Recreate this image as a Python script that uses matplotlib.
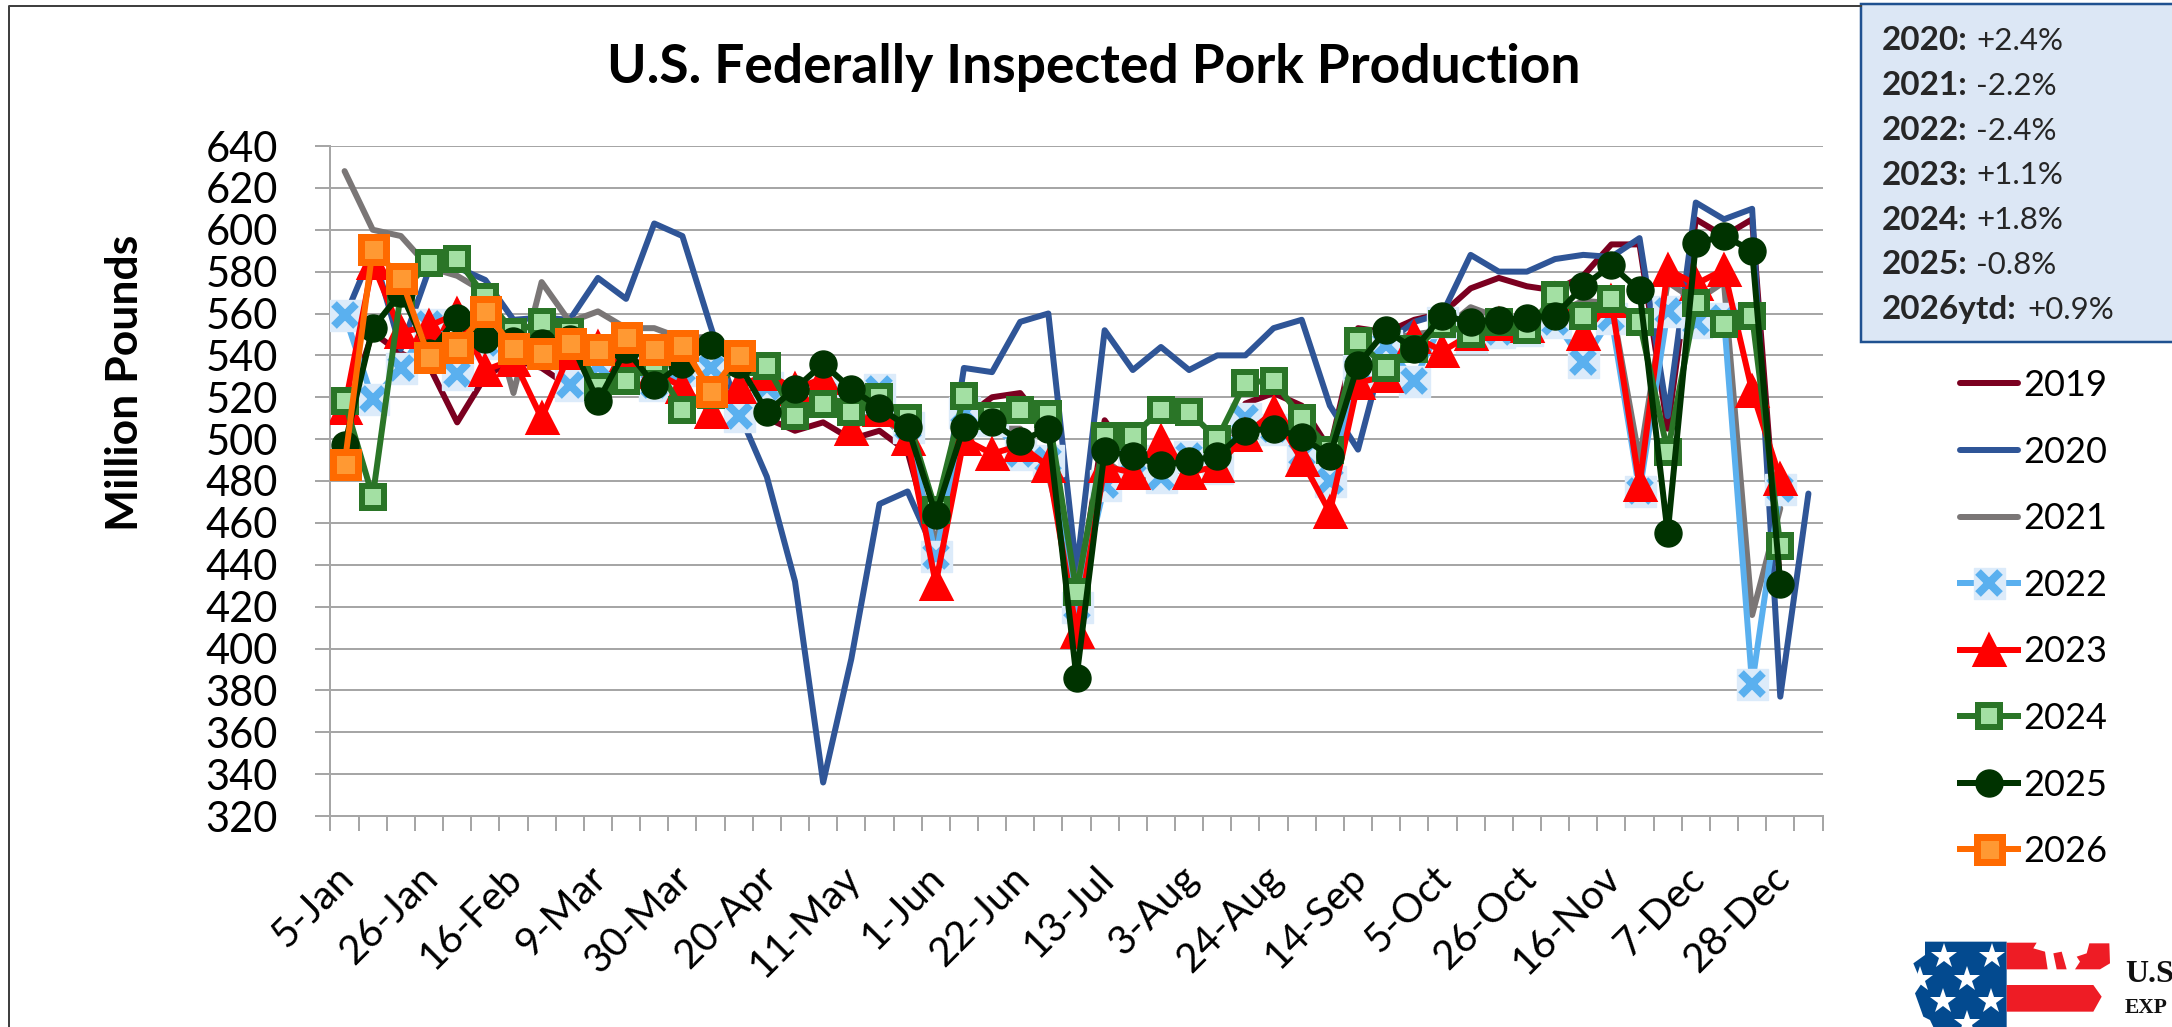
import matplotlib
matplotlib.use("Agg")
import matplotlib.pyplot as plt
from matplotlib.legend_handler import HandlerTuple
from matplotlib.patches import Polygon, Rectangle
from matplotlib.lines import Line2D
from matplotlib.transforms import ScaledTranslation

plt.rcParams['font.family'] = ['Lato', 'DejaVu Sans']

TITLE = "U.S. Federally Inspected Pork Production"
YLABEL = "Million Pounds"
TICK_LABELS = ["5-Jan", "26-Jan", "16-Feb", "9-Mar", "30-Mar", "20-Apr", "11-May", "1-Jun", "22-Jun",
               "13-Jul", "3-Aug", "24-Aug", "14-Sep", "5-Oct", "26-Oct", "16-Nov", "7-Dec", "28-Dec"]
Y_TICKS = list(range(320, 641, 20))
NOTE_YEARS = ["2020:", "2021:", "2022:", "2023:", "2024:", "2025:", "2026ytd:"]
NOTE_VALUES = ["+2.4%", "-2.2%", "-2.4%", "+1.1%", "+1.8%", "-0.8%", "+0.9%"]

y2019 = [510, 551, 541, 535, 508, 530, 538, 534, 525, 530, 535, 531, 530, 525, 520, 510, 504, 508, 500, 504,
         494, 445, 510, 520, 522, 505, 420, 509, 490, 488, 487, 492, 517, 522, 516, 495, 553, 551, 557, 560,
         572, 577, 573, 571, 578, 593, 593, 505, 605, 597, 605, 430]
y2020 = [558, 590, 543, 581, 582, 576, 557, 558, 557, 577, 567, 603, 597, 554, 513, 482, 432, 336, 395, 469,
         475, 445, 534, 532, 556, 560, 437, 552, 533, 544, 533, 540, 540, 553, 557, 516, 495, 546, 556, 560,
         588, 580, 580, 586, 588, 587, 596, 511, 613, 605, 610, 377, 474]
y2021 = [628, 600, 597, 582, 578, 570, 522, 575, 556, 561, 553, 553, 548, 549, 538, 530, 522, 515, 510, 512,
         500, 450, 510, 505, 505, 483, 430, 490, 480, 482, 487, 490, 505, 510, 503, 490, 545, 548, 550, 552,
         563, 558, 557, 560, 566, 565, 490, 575, 566, 575, 416, 467]
y2022 = [559.5, 519, 534, 555, 531, 546, 548, 549, 526, 535, 532, 526, 533, 534, 511, 525, 518, 522, 520, 524,
         506, 444, 513, 509, 493, 490, 420, 478, 490, 482, 492, 486, 510, 505, 493, 480, 533, 545, 528, 556,
         549, 551, 552, 556, 537, 558, 475, 561, 556, 558, 383, 476]
y2023 = [515, 584, 551, 554, 560, 533, 538, 510, 541, 544, 540, 532, 525, 513, 525, 531, 524, 529, 505, 514,
         500, 431, 500, 493, 497, 487, 408, 487, 484, 499, 484, 487, 502, 513, 490, 465, 527, 530, 549, 542,
         550, 555, 554, 567, 550, 566, 478, 581, 574, 581, 523, 481]
y2024 = [518, 472.5, 570, 584, 586, 568, 551, 556, 551, 525, 528, 537, 514, 521, 537, 535, 511, 517, 513, 520,
         510, 466, 520.5, 511, 514, 512, 427, 501.5, 501.5, 514, 513, 500, 527, 528, 510, 495, 547, 534, 543, 555,
         550, 556, 552, 569, 559, 567, 556, 494, 565, 555, 559, 449]
y2025 = [497, 553, 570, 541, 558, 548, 547, 546, 548, 518, 543, 526, 536, 545, 536, 513, 524, 536, 524, 515,
         506, 464, 506, 508, 499, 505, 386, 494.5, 492, 487.5, 489.5, 492, 504, 505, 501, 492, 535.5, 552, 543, 559,
         556, 557, 558, 559, 573, 583, 571, 455, 593.5, 597, 590, 431]
y2026 = [488, 591, 577, 539, 544, 561, 543.5, 541, 546, 543, 549, 543, 545, 523, 540]

W, H = 2172, 1027
fig = plt.figure(figsize=(W / 100, H / 100), dpi=100, facecolor='white')
PT = 0.72  # points per pixel at dpi 100

L, R, T, B = 330.5, 1822.5, 146, 816
ax = fig.add_axes([L / W, 1 - B / H, (R - L) / W, (B - T) / H])
ax.set_xlim(-0.5, 52.5)
ax.set_ylim(320, 640)


def xs(v):
    return list(range(len(v)))


lw = 6 * PT
handles = []
labels = ["2019", "2020", "2021", "2022", "2023", "2024", "2025", "2026"]
h, = ax.plot(xs(y2019), y2019, color='#7b0020', lw=lw, solid_joinstyle='round', solid_capstyle='round', zorder=3)
handles.append(h)
h, = ax.plot(xs(y2020), y2020, color='#2f5597', lw=lw, solid_joinstyle='round', solid_capstyle='round', zorder=3.1)
handles.append(h)
h, = ax.plot(xs(y2021), y2021, color='#7a7676', lw=lw, solid_joinstyle='round', solid_capstyle='round', zorder=3.2)
handles.append(h)
h1, = ax.plot(xs(y2022), y2022, color='#5ab0ef', lw=lw, marker='s', ms=31 * PT, mfc='#dcebfa', mec='#dcebfa',
              solid_joinstyle='round', zorder=3.3)
h2, = ax.plot(xs(y2022), y2022, ls='none', marker='x', ms=23 * PT, mew=8 * PT, mec='#5ab0ef', zorder=3.31)
handles.append((h1, h2))
h, = ax.plot(xs(y2023), y2023, color='#ff0000', lw=lw, marker='^', ms=29 * PT, mfc='#ff0000', mec='#ff0000',
             mew=4 * PT, solid_joinstyle='round', zorder=3.4)
handles.append(h)
h, = ax.plot(xs(y2024), y2024, color='#2a7527', lw=lw, marker='s', ms=22 * PT, mfc='#a3e0a3', mec='#2a7527',
             mew=6 * PT, solid_joinstyle='round', zorder=3.5)
handles.append(h)
h, = ax.plot(xs(y2025), y2025, color='#003300', lw=lw, marker='o', ms=27 * PT, mfc='#003300', mec='#003300',
             solid_joinstyle='round', zorder=3.6)
handles.append(h)
h, = ax.plot(xs(y2026), y2026, color='#ff6a00', lw=lw, marker='s', ms=25 * PT, mfc='#ff9933', mec='#ff6a00',
             mew=7 * PT, solid_joinstyle='round', zorder=3.7)
handles.append(h)

# axes furniture
for s in ('top', 'right'):
    ax.spines[s].set_visible(False)
for s in ('left', 'bottom'):
    ax.spines[s].set_color('#a6a6a6')
    ax.spines[s].set_linewidth(2 * PT)
ax.set_yticks(Y_TICKS)
ax.tick_params(axis='y', length=15 * PT, width=2 * PT, color='#a6a6a6', labelsize=30, pad=27)
ax.grid(axis='y', color='#a6a6a6', lw=2 * PT, zorder=1)
ax.set_axisbelow(True)
ax.set_xticks([i - 0.5 for i in range(54)], minor=True)
ax.tick_params(axis='x', which='minor', length=15 * PT, width=2 * PT, color='#a6a6a6')
ax.set_xticks(list(range(0, 53, 3)))
ax.set_xticklabels(TICK_LABELS, rotation=45, ha='right', va='top', rotation_mode='anchor', fontsize=29)
ax.tick_params(axis='x', which='major', length=0, pad=31)
shift = ScaledTranslation(-10 / 100, 0, fig.dpi_scale_trans)
for t in ax.get_xticklabels():
    t.set_transform(t.get_transform() + shift)

fig.text(1094 / W, 1 - 67 / H, TITLE, ha='center', va='center', fontsize=38.4, fontweight='bold', color='black')
fig.text(125 / W, 1 - 383 / H, YLABEL, ha='center', va='center', rotation=90, fontsize=32, fontweight='bold',
         color='black')

# overlay in pixel coordinates for frame, note box and logo
ov = fig.add_axes([0, 0, 1, 1], zorder=5)
ov.set_xlim(0, W)
ov.set_ylim(H, 0)
ov.axis('off')
ov.patch.set_alpha(0)
ov.add_line(Line2D([9, 9, 1861], [H, 6, 6], color='#404040', lw=2 * PT))
ov.add_patch(Rectangle((1861, 4), 340, 338, fc='#dce7f5', ec='#1f5190', lw=2.5 * PT))
for i, (a, b) in enumerate(zip(NOTE_YEARS, NOTE_VALUES)):
    yy = 41 + i * 44.8
    ov.text(1882, yy, a, fontsize=24, fontweight='bold', color='#262626', va='center', ha='left')
    ov.text(2027 if i == 6 else 1976, yy, b, fontsize=22.5, color='#262626', va='center', ha='left')


# logo, outlines traced in reference pixels
def px(points):
    return [(1880 + x / 3, 920 + y / 3) for x, y in points]


ov.add_patch(Polygon(px([(135, 65), (380, 65), (380, 321), (160, 321), (150, 300), (130, 290), (105, 220), (125, 190),
                         (100, 130), (135, 105)]), fc='#034a8f', ec='none'))
ov.add_patch(Polygon(px([(380, 68), (470, 68), (460, 85), (495, 95), (503, 148), (380, 148)]), fc='#ee1c25', ec='none'))
ov.add_patch(Polygon(px([(520, 100), (545, 95), (560, 148), (530, 148)]), fc='#ee1c25', ec='none'))
ov.add_patch(Polygon(px([(628, 70), (688, 70), (690, 130), (660, 148), (585, 148), (600, 125), (590, 110), (620, 100)]),
                     fc='#ee1c25', ec='none'))
ov.add_patch(Polygon(px([(380, 195), (640, 195), (665, 230), (640, 275), (380, 275)]), fc='#ee1c25', ec='none'))
star_xy = px([(193, 108), (335, 108), (262, 178), (120, 178), (190, 242), (333, 242), (262, 310)])
ov.plot([p[0] for p in star_xy], [p[1] for p in star_xy], ls='none', marker='*', ms=27 * PT, mfc='white', mec='white',
        mew=0)
ov.text(2125, 982, "U.S", family='Liberation Serif', fontweight='bold', fontsize=23, color='#111111', ha='left',
        va='baseline')
ov.text(2125, 1013, "EXP", family='Liberation Serif', fontweight='bold', fontsize=15.5, color='#111111', ha='left',
        va='baseline')

leg = fig.legend(handles, labels, loc='upper left', bbox_to_anchor=(1960 / W, 1 - 369 / H), frameon=False,
                 fontsize=26, labelspacing=0.93, handlelength=1.6, handletextpad=0.15, borderpad=0, borderaxespad=0,
                 handler_map={tuple: HandlerTuple(ndivide=1, pad=0)})
leg.set_zorder(6)

fig.savefig('out.png', dpi=100)
